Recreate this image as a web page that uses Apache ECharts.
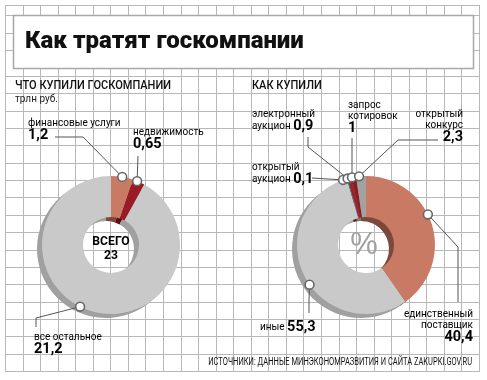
<!DOCTYPE html>
<html><head><meta charset="utf-8">
<script src="https://cdn.jsdelivr.net/npm/echarts@6/dist/echarts.min.js"></script>
<style>html,body{margin:0;padding:0;background:#fff}#c{width:487px;height:380px}</style>
</head><body><div id="c"></div>
<script>
// ---------- DATA ----------
const leftNames = ['финансовые услуги', 'недвижимость', 'все остальное'];
const leftValues = [1.2, 0.65, 21.2];
const leftTotal = 23;
const rightNames = ['единственный поставщик', 'иные', 'открытый аукцион', 'электронный аукцион', 'запрос котировок', 'открытый конкурс'];
const rightValues = [40.4, 55.3, 0.1, 0.9, 1, 2.3];
const titleText = 'Как тратят госкомпании';
const leftHeader = 'ЧТО КУПИЛИ ГОСКОМПАНИИ';
const unitText = 'трлн руб.';
const rightHeader = 'КАК КУПИЛИ';
const totalLabel = 'ВСЕГО';
const percentSign = '%';
const sourceText = 'ИСТОЧНИКИ: ДАННЫЕ МИНЭКОНОМРАЗВИТИЯ И САЙТА ZAKUPKI.GOV.RU';

// ---------- STYLE / LAYOUT ----------
const leftColors = ['#c97a65', '#9a1b25', '#c9c9c9'];
const leftWalls = ['#7d4739', '#5a0e14', '#a0a0a0'];
const rightColors = ['#c97a65', '#c9c9c9', '#3a9688', '#a3202a', '#8e1a24', '#a2a2a2'];
const rightWalls = ['#7d4739', '#a0a0a0', '#22605a', '#5a0e14', '#5a0e14', '#7a7a7a'];
const LP = {cx: 111, cy: 245, r0: 28, r1: 69};
const RP = {cx: 366, cy: 245, r0: 28, r1: 69};
const WALL = [-5, 4];
const leftAnno = [
  {shift: 0, path: [[83, 137], [55, 137]], x: 28, y: 117.5, align: 'left', tpl: '0 1|v'},
  {shift: -0.1, path: [[138, 156]], x: 133, y: 126.5, align: 'left', tpl: '0|v'},
  {shift: 0.78, path: [[36, 318], [36, 327]], x: 34, y: 331.5, align: 'left', tpl: '0 1|v'}
];
const rightAnno = [
  {shift: -2.5, path: [[458, 247], [458, 302]], x: 473, y: 308.5, align: 'right', tpl: '0|1|v'},
  {shift: -2.8, path: [[309, 300], [309, 313]], x: 260, y: 320, align: 'left', tpl: '0 v'},
  {shift: -1.15, path: [[312, 178]], x: 252, y: 161.5, align: 'left', tpl: '0|1 v'},
  {shift: -0.55, path: [[308, 147], [308, 137]], x: 252, y: 108.5, align: 'left', tpl: '0|1 v'},
  {shift: -0.45, path: [[352, 160], [352, 138]], x: 348, y: 99.5, align: 'left', tpl: '0|1|v'},
  {shift: -0.45, path: [[398, 140], [438, 140]], x: 463, y: 108.5, align: 'right', tpl: '0|1|v'}
];
const FONT = 'Roboto, "Liberation Sans", sans-serif';
const GRID_COLOR = '#b8b8b8';

const fmt = v => String(v).replace('.', ',');
const rich = {
  n: {fontFamily: FONT, fontSize: 10, lineHeight: 11, color: '#222'},
  v: {fontFamily: FONT, fontSize: 14.5, fontWeight: 'bold', lineHeight: 14, color: '#111'}
};
function labelText(name, value, tpl) {
  const words = name.split(' ');
  return tpl.split('|').map(line => line.split(' ').map(t =>
    t === 'v' ? '{v|' + fmt(value) + '}' : '{n|' + words[+t] + '}').join('{n| }')).join('\n');
}
function markerData(values, anno) {
  let cum = 0;
  return values.map((v, i) => { const a = cum + v / 2 + anno[i].shift; cum += v; return [1, a]; });
}
function makeRender(names, values, anno) {
  return function (params, api) {
    const i = params.dataIndex, an = anno[i];
    const p = api.coord([api.value(0), api.value(1)]);
    return {type: 'group', children: [
      {type: 'polyline', z2: 1, shape: {points: [p].concat(an.path)}, style: {stroke: '#555', lineWidth: 1, fill: null}},
      {type: 'circle', z2: 10, shape: {cx: p[0], cy: p[1], r: 4.4}, style: {fill: '#fff', stroke: '#666', lineWidth: 1.6}},
      {type: 'text', z2: 5, x: an.x, y: an.y, style: {text: labelText(names[i], values[i], an.tpl), rich: rich, align: an.align, verticalAlign: 'top'}}
    ]};
  };
}

// ---------- BACKGROUND GRID ----------
const g = [];
const X0 = 5, X1 = 479, Y0 = 5, Y1 = 371;
for (let k = 0; k <= 27; k++) {
  const x = Math.round(X0 + k * (X1 - X0) / 27) + 0.5;
  g.push({type: 'line', z: 0, silent: true, shape: {x1: x, y1: Y0, x2: x, y2: Y1}, style: {stroke: GRID_COLOR, lineWidth: 1}});
}
const hy = [Y0, 15, 32.7, 50.3];
for (let k = 0; k <= 17; k++) hy.push(76 + k * (Y1 - 76) / 17);
hy.forEach(y => { const yy = Math.round(y) + 0.5;
  g.push({type: 'line', z: 0, silent: true, shape: {x1: X0, y1: yy, x2: X1 + 1, y2: yy}, style: {stroke: GRID_COLOR, lineWidth: 1}}); });
g.push({type: 'rect', z: 1, silent: true, shape: {x: 13.5, y: 15.5, width: 460, height: 53}, style: {fill: '#fff', stroke: '#a8a8a8', lineWidth: 1.5}});
g.push({type: 'text', z: 10, x: 25, y: 42, style: {text: titleText, fontFamily: FONT, fontWeight: 900, fontSize: 24, fill: '#111', verticalAlign: 'middle'}});
g.push({type: 'text', z: 10, x: 15, y: 86, scaleX: 0.85, style: {text: leftHeader, fontFamily: FONT, fontWeight: 500, fontSize: 13, fill: '#111', verticalAlign: 'middle'}});
g.push({type: 'text', z: 10, x: 15, y: 99, style: {text: unitText, fontFamily: FONT, fontSize: 10, fill: '#222', verticalAlign: 'middle'}});
g.push({type: 'text', z: 10, x: 252, y: 86, scaleX: 0.85, style: {text: rightHeader, fontFamily: FONT, fontWeight: 500, fontSize: 13, fill: '#111', verticalAlign: 'middle'}});
g.push({type: 'text', z: 10, x: LP.cx, y: LP.cy + 4, scaleX: 0.9, style: {
  text: '{t|' + totalLabel + '}\n{t|' + fmt(leftTotal) + '}', align: 'center', verticalAlign: 'middle',
  rich: {t: {fontFamily: FONT, fontWeight: 'bold', fontSize: 13.5, lineHeight: 14, color: '#111', align: 'center'}}}});
g.push({type: 'text', z: 10, x: RP.cx - 2, y: RP.cy, style: {text: percentSign, fontFamily: '"Liberation Sans", sans-serif', fontSize: 31, fill: '#a0a0a0', align: 'center', verticalAlign: 'middle'}});
g.push({type: 'text', z: 10, x: 472, y: 362, scaleX: 0.75, style: {text: sourceText, fontFamily: FONT, fontSize: 10, fill: '#111', align: 'right', verticalAlign: 'middle'}});

function pie(center, radius, names, values, colors, z, minAngle) {
  return {type: 'pie', center: center, radius: radius, startAngle: 90, clockwise: true, minAngle: minAngle || 0,
    silent: true, z: z, label: {show: false}, labelLine: {show: false}, itemStyle: {borderWidth: 0},
    data: values.map((v, i) => ({value: v, name: names[i], itemStyle: {color: colors[i]}}))};
}
const sum = a => a.reduce((s, v) => s + v, 0);

const chart = echarts.init(document.getElementById('c'));
chart.setOption({
  animation: false,
  graphic: {elements: g},
  polar: [
    {center: [LP.cx, LP.cy], radius: [0, LP.r1]},
    {center: [RP.cx, RP.cy], radius: [0, RP.r1]}
  ],
  angleAxis: [
    {polarIndex: 0, type: 'value', min: 0, max: sum(leftValues), startAngle: 90, clockwise: true, show: false},
    {polarIndex: 1, type: 'value', min: 0, max: sum(rightValues), startAngle: 90, clockwise: true, show: false}
  ],
  radiusAxis: [
    {polarIndex: 0, type: 'value', min: 0, max: 1, show: false},
    {polarIndex: 1, type: 'value', min: 0, max: 1, show: false}
  ],
  series: [
    pie([LP.cx + WALL[0], LP.cy + WALL[1]], [LP.r0, LP.r1], leftNames, leftValues, leftWalls, 2),
    pie([LP.cx, LP.cy], [LP.r0, LP.r1], leftNames, leftValues, leftColors, 3),
    pie([RP.cx + WALL[0], RP.cy + WALL[1]], [RP.r0, RP.r1], rightNames, rightValues, rightWalls, 2, 1),
    pie([RP.cx, RP.cy], [RP.r0, RP.r1], rightNames, rightValues, rightColors, 3, 1),
    {type: 'custom', coordinateSystem: 'polar', polarIndex: 0, z: 5, silent: true,
      data: markerData(leftValues, leftAnno), renderItem: makeRender(leftNames, leftValues, leftAnno)},
    {type: 'custom', coordinateSystem: 'polar', polarIndex: 1, z: 5, silent: true,
      data: markerData(rightValues, rightAnno), renderItem: makeRender(rightNames, rightValues, rightAnno)}
  ]
});
</script></body></html>
